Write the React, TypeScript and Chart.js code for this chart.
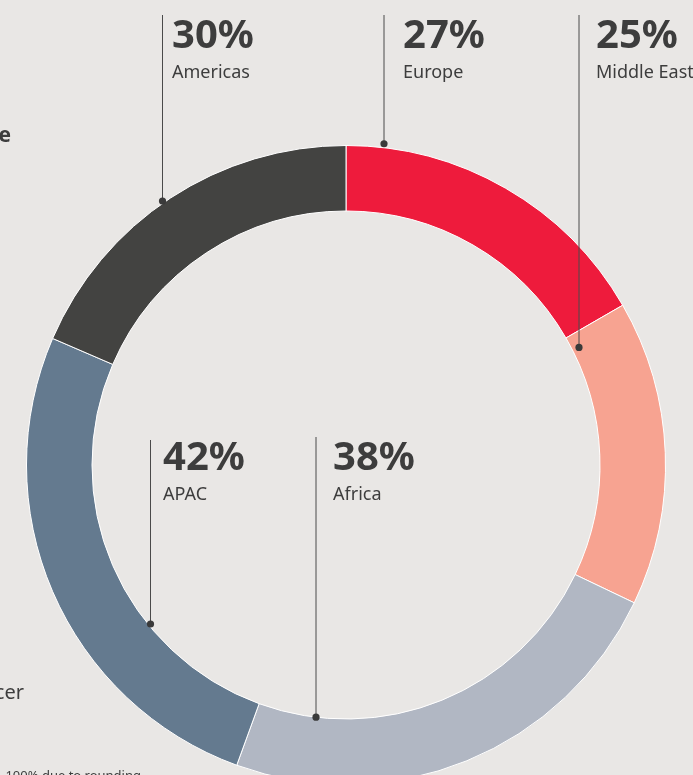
import { useEffect, useRef } from 'react';
import { Chart, registerables } from 'chart.js';

Chart.register(...registerables);

// Data (clockwise from 12 o'clock)
const categories = ['Europe', 'Middle East', 'Africa', 'APAC', 'Americas'];
const shares = [27, 25, 38, 42, 30];
const shareLabels = ['27%', '25%', '38%', '42%', '30%'];
const sliceColors = ['#EE1B3C', '#F7A391', '#B1B7C3', '#647A8F', '#434341'];

// Leader-line / label layout (annotation positions, not data)
const labelLayout = [
  { lineX: 384, lineTop: 15, textX: 403, pctY: 48, nameY: 78, edge: 'outer', inset: 4, side: -1 },
  { lineX: 579, lineTop: 15, textX: 596, pctY: 48, nameY: 78, edge: 'inner', inset: 7, side: -1 },
  { lineX: 316, lineTop: 437, textX: 333, pctY: 470, nameY: 500, edge: 'inner', inset: 0, side: 1 },
  { lineX: 150.5, lineTop: 440, textX: 163, pctY: 470, nameY: 500, edge: 'inner', inset: -2, side: 1 },
  { lineX: 162.5, lineTop: 15, textX: 172, pctY: 48, nameY: 78, edge: 'outer', inset: 2, side: -1 },
];

const BG = '#E9E7E5';
const TEXT = '#3D3D3D';
const FONT = '"Noto Sans", "Open Sans", sans-serif';

const leaderPlugin = {
  id: 'leaders',
  afterDraw(chart: any) {
    const ctx = chart.ctx as CanvasRenderingContext2D;
    const meta = chart.getDatasetMeta(0);
    ctx.save();
    labelLayout.forEach((l, i) => {
      const arc: any = meta.data[i];
      if (!arc) return;
      const cx = arc.x, cy = arc.y;
      const base = l.edge === 'outer' ? arc.outerRadius : arc.innerRadius;
      const rad = base + l.inset;
      const dx = l.lineX - cx;
      const dotY = cy + l.side * Math.sqrt(Math.max(rad * rad - dx * dx, 0));
      // line
      ctx.strokeStyle = '#4A4A4A';
      ctx.lineWidth = 1;
      ctx.beginPath();
      ctx.moveTo(l.lineX, l.lineTop);
      ctx.lineTo(l.lineX, dotY);
      ctx.stroke();
      // dot
      ctx.fillStyle = '#3A3A3A';
      ctx.beginPath();
      ctx.arc(l.lineX, dotY, 3.6, 0, Math.PI * 2);
      ctx.fill();
      // texts
      ctx.fillStyle = TEXT;
      ctx.textAlign = 'left';
      ctx.textBaseline = 'alphabetic';
      ctx.font = `bold 40px ${FONT}`;
      ctx.fillText(shareLabels[i], l.textX, l.pctY);
      ctx.font = `18px ${FONT}`;
      ctx.fillText(categories[i], l.textX, l.nameY);
    });
    // cropped fragments of surrounding page text
    ctx.fillStyle = TEXT;
    ctx.font = `bold 21px ${FONT}`;
    ctx.textAlign = 'right';
    ctx.fillText('e', 11, 142);
    ctx.font = `20px ${FONT}`;
    ctx.fillText('cer', 24, 699);
    ctx.font = `13px ${FONT}`;
    ctx.fillText('100% due to rounding', 141, 780);
    ctx.restore();
  },
};

export default function App() {
  const ref = useRef<HTMLCanvasElement | null>(null);

  useEffect(() => {
    if (!ref.current) return;
    const chart = new Chart(ref.current, {
      type: 'doughnut',
      data: {
        labels: categories,
        datasets: [
          {
            data: shares,
            backgroundColor: sliceColors,
            borderColor: '#FFFFFF',
            borderWidth: 1,
          },
        ],
      },
      options: {
        responsive: false,
        animation: false,
        devicePixelRatio: 1,
        cutout: '79.5%',
        layout: { padding: { left: 26, top: 145, right: 27, bottom: 15 } },
        plugins: {
          legend: { display: false },
          tooltip: { enabled: false },
        },
      },
      plugins: [leaderPlugin],
    });
    return () => chart.destroy();
  }, []);

  return (
    <div
      style={{
        position: 'absolute',
        left: 0,
        top: 0,
        width: 693,
        height: 775,
        overflow: 'hidden',
        background: BG,
      }}
    >
      <canvas ref={ref} width={693} height={800} style={{ display: 'block' }} />
    </div>
  );
}
